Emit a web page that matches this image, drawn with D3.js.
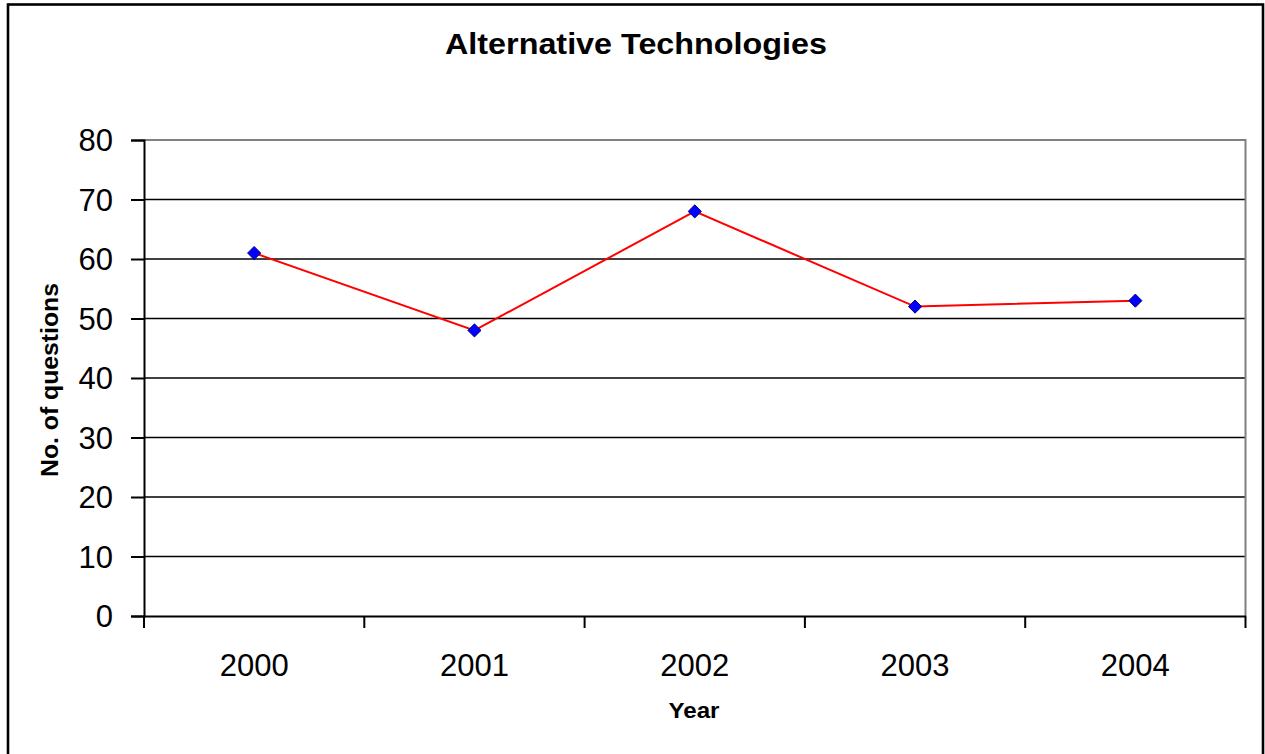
<!DOCTYPE html>
<html>
<head>
<meta charset="utf-8">
<script src="https://cdn.jsdelivr.net/npm/d3@7"></script>
<style>
  html, body { margin: 0; padding: 0; background: #fff; }
  svg { display: block; }
  text { font-family: Arial, "Liberation Sans", Helvetica, sans-serif; fill: #000; }
</style>
</head>
<body>
<svg id="chart" width="1265" height="754"></svg>
<script>
const categories = ["2000", "2001", "2002", "2003", "2004"];
const values = [61, 48, 68, 52, 53];
const yTicks = [0, 10, 20, 30, 40, 50, 60, 70, 80];
const titleText = "Alternative Technologies";
const xTitle = "Year";
const yTitle = "No. of questions";

const svg = d3.select("#chart");

// outer frame
svg.append("rect")
  .attr("x", 8).attr("y", 4.5)
  .attr("width", 1255).attr("height", 800)
  .attr("fill", "#fff").attr("stroke", "#000").attr("stroke-width", 2.6);

const plot = { left: 144, right: 1245.5, top: 140, bottom: 616 };

const x = d3.scaleBand().domain(categories).range([plot.left, plot.right]).paddingInner(0).paddingOuter(0);
const y = d3.scaleLinear().domain([0, 80]).range([plot.bottom, plot.top]);

// gridlines
svg.append("g").selectAll("line")
  .data(yTicks.filter(t => t > 0 && t < 80))
  .join("line")
  .attr("x1", plot.left).attr("x2", plot.right)
  .attr("y1", d => y(d)).attr("y2", d => y(d))
  .attr("stroke", "#000").attr("stroke-width", 1.6);

// plot border top/right gray
svg.append("path")
  .attr("d", `M${plot.left},${plot.top}H${plot.right}V${plot.bottom}`)
  .attr("fill", "none").attr("stroke", "#808080").attr("stroke-width", 2);

// Y axis
const yAxis = d3.axisLeft(y).tickValues(yTicks).tickSize(13).tickPadding(18).tickFormat(d3.format("d"));
const gy = svg.append("g").attr("transform", `translate(${plot.left},0)`).call(yAxis);
gy.select(".domain").attr("stroke", "#000").attr("stroke-width", 2);
gy.selectAll(".tick line").attr("stroke", "#000").attr("stroke-width", 2);
gy.selectAll(".tick text")
  .attr("font-size", 31).attr("font-family", "Arial, 'Liberation Sans', sans-serif")
  .attr("fill", "#000").attr("dy", "0.35em");

// X axis with ticks at band boundaries
const xAxis = d3.axisBottom(x).tickSize(0).tickPadding(38);
const gx = svg.append("g").attr("transform", `translate(0,${plot.bottom})`).call(xAxis);
gx.select(".domain").attr("stroke", "#000").attr("stroke-width", 2);
gx.selectAll(".tick text")
  .attr("font-size", 31).attr("font-family", "Arial, 'Liberation Sans', sans-serif")
  .attr("fill", "#000");
const bounds = categories.map(c => x(c)).concat([x(categories[categories.length - 1]) + x.bandwidth()]);
svg.append("g").selectAll("line")
  .data(bounds).join("line")
  .attr("x1", d => d).attr("x2", d => d)
  .attr("y1", plot.bottom).attr("y2", plot.bottom + 12)
  .attr("stroke", "#000").attr("stroke-width", 2);

// line
const line = d3.line()
  .x((d, i) => x(categories[i]) + x.bandwidth() / 2)
  .y(d => y(d));
svg.append("path").datum(values)
  .attr("d", line).attr("fill", "none")
  .attr("stroke", "#ff0000").attr("stroke-width", 2);

// markers
const diamond = d3.symbol().type(d3.symbolDiamond2 || d3.symbolSquare2).size(110);
svg.append("g").selectAll("path")
  .data(values).join("path")
  .attr("transform", (d, i) => `translate(${x(categories[i]) + x.bandwidth() / 2},${y(d)})${d3.symbolDiamond2 ? "" : " rotate(45)"}`)
  .attr("d", diamond)
  .attr("fill", "#0000ff").attr("stroke", "#000080").attr("stroke-width", 1);

// titles
svg.append("text")
  .attr("x", 636).attr("y", 54)
  .attr("text-anchor", "middle")
  .attr("font-size", 30).attr("font-weight", "bold")
  .attr("textLength", 382).attr("lengthAdjust", "spacingAndGlyphs")
  .text(titleText);

svg.append("text")
  .attr("x", 694).attr("y", 718)
  .attr("text-anchor", "middle")
  .attr("font-size", 22).attr("font-weight", "bold")
  .attr("textLength", 51).attr("lengthAdjust", "spacingAndGlyphs")
  .text(xTitle);

svg.append("text")
  .attr("transform", "translate(58,380) rotate(-90)")
  .attr("text-anchor", "middle")
  .attr("font-size", 23).attr("font-weight", "bold")
  .attr("textLength", 194).attr("lengthAdjust", "spacingAndGlyphs")
  .text(yTitle);
</script>
</body>
</html>
